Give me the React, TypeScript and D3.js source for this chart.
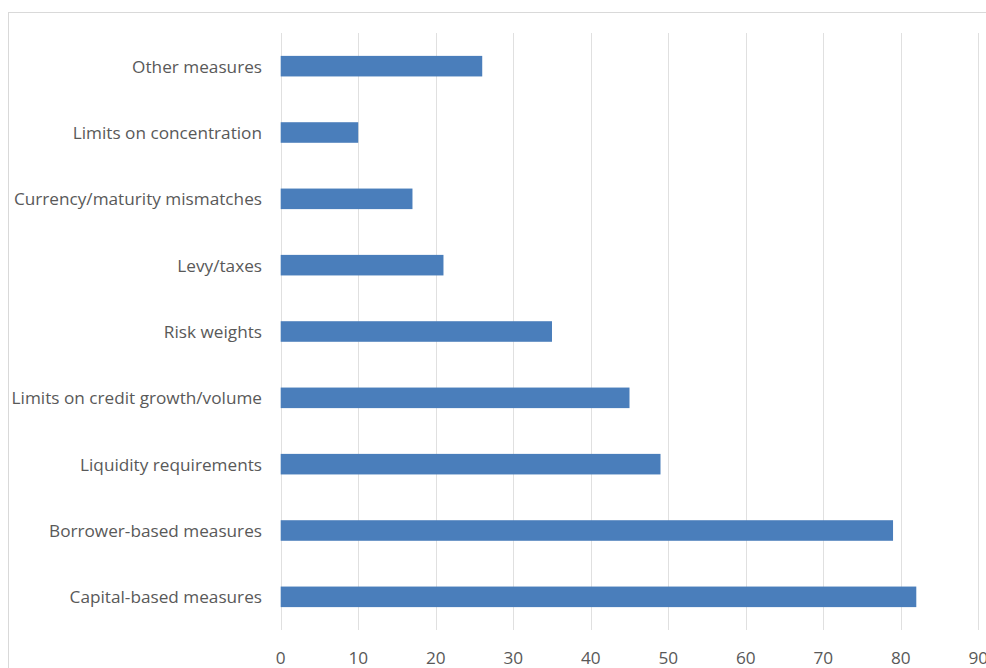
import React from "react";
import * as d3 from "d3";

const categories = [
  "Other measures",
  "Limits on concentration",
  "Currency/maturity mismatches",
  "Levy/taxes",
  "Risk weights",
  "Limits on credit growth/volume",
  "Liquidity requirements",
  "Borrower-based measures",
  "Capital-based measures",
];
const values = [26, 10, 17, 21, 35, 45, 49, 79, 82];
const xTicks = [0, 10, 20, 30, 40, 50, 60, 70, 80, 90];

const W = 986;
const H = 668;
const FONT = "'Open Sans', sans-serif";

export default function App() {
  const x = d3.scaleLinear().domain([0, 90]).range([280.7, 978.3]);
  const y = d3
    .scaleBand<string>()
    .domain(categories)
    .range([33, 630])
    .paddingInner(0.69)
    .paddingOuter(0.345);

  return (
    <svg
      width={W}
      height={H}
      style={{ position: "absolute", left: 0, top: 0, background: "#fff" }}
    >
      <rect x={8.5} y={12.5} width={1200} height={900} fill="#fff" stroke="#d9d9d9" strokeWidth={1} />
      {xTicks.map((t) => (
        <line
          key={t}
          x1={Math.round(x(t)) + 0.5}
          x2={Math.round(x(t)) + 0.5}
          y1={33}
          y2={630}
          stroke="#e0e0e0"
          strokeWidth={1}
        />
      ))}
      {categories.map((c, i) => (
        <rect
          key={c}
          x={x(0)}
          y={y(c)!}
          width={x(values[i]) - x(0)}
          height={y.bandwidth()}
          fill="#4a7ebb"
        />
      ))}
      {categories.map((c) => (
        <text
          key={c}
          x={262}
          y={y(c)! + y.bandwidth() / 2}
          textAnchor="end"
          dominantBaseline="central"
          fontFamily={FONT}
          fontSize={17.2}
          fill="#595959"
        >
          {c}
        </text>
      ))}
      {xTicks.map((t) => (
        <text
          key={t}
          x={x(t)}
          y={657}
          textAnchor="middle"
          dominantBaseline="central"
          fontFamily={FONT}
          fontSize={17.2}
          fill="#595959"
        >
          {t}
        </text>
      ))}
    </svg>
  );
}
